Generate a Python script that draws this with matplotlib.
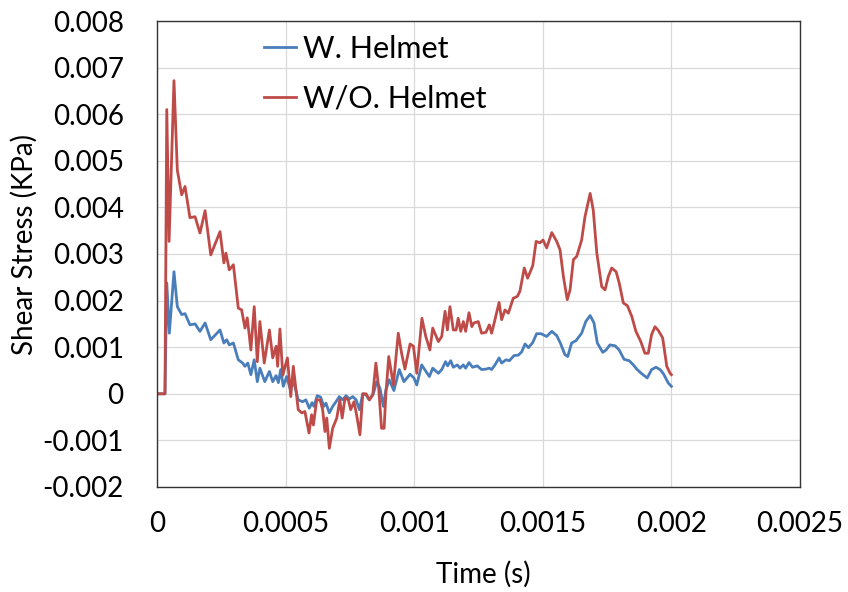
import numpy as np
import matplotlib
matplotlib.use("Agg")
import matplotlib.pyplot as plt

plt.rcParams['font.family'] = ['Lato', 'DejaVu Sans']

# Shear stress history, with helmet
t_with = [0, 3.1e-5, 3.8e-5, 4.8e-5, 6.6e-5, 7.9e-5, 9.6e-5, 1.09e-4, 1.28e-4, 1.48e-4,
          1.67e-4, 1.87e-4, 2.09e-4, 2.45e-4, 2.60e-4, 2.71e-4, 2.81e-4, 2.97e-4, 3.16e-4, 3.33e-4,
          3.42e-4, 3.53e-4, 3.65e-4, 3.78e-4, 3.90e-4, 4.00e-4, 4.19e-4, 4.37e-4, 4.50e-4, 4.63e-4,
          4.72e-4, 4.81e-4, 4.91e-4, 5.04e-4, 5.17e-4, 5.33e-4, 5.49e-4, 5.66e-4, 5.79e-4, 5.92e-4,
          6.03e-4, 6.10e-4, 6.23e-4, 6.36e-4, 6.49e-4, 6.57e-4, 6.70e-4, 6.83e-4, 6.96e-4, 7.09e-4,
          7.22e-4, 7.35e-4, 7.48e-4, 7.61e-4, 7.74e-4, 7.87e-4, 8.00e-4, 8.13e-4, 8.25e-4, 8.41e-4,
          8.54e-4, 8.67e-4, 8.80e-4, 8.90e-4, 9.03e-4, 9.21e-4, 9.42e-4, 9.60e-4, 9.84e-4, 9.99e-4,
          1.010e-3, 1.029e-3, 1.046e-3, 1.059e-3, 1.072e-3, 1.094e-3, 1.107e-3, 1.122e-3, 1.130e-3, 1.142e-3,
          1.152e-3, 1.168e-3, 1.178e-3, 1.191e-3, 1.200e-3, 1.213e-3, 1.227e-3, 1.245e-3, 1.262e-3, 1.279e-3,
          1.292e-3, 1.301e-3, 1.314e-3, 1.330e-3, 1.340e-3, 1.357e-3, 1.370e-3, 1.388e-3, 1.405e-3, 1.418e-3,
          1.431e-3, 1.444e-3, 1.461e-3, 1.476e-3, 1.493e-3, 1.515e-3, 1.535e-3, 1.554e-3, 1.569e-3, 1.586e-3,
          1.597e-3, 1.612e-3, 1.629e-3, 1.651e-3, 1.667e-3, 1.684e-3, 1.699e-3, 1.712e-3, 1.733e-3, 1.746e-3,
          1.761e-3, 1.781e-3, 1.797e-3, 1.816e-3, 1.836e-3, 1.852e-3, 1.867e-3, 1.885e-3, 1.906e-3, 1.923e-3,
          1.940e-3, 1.956e-3, 1.969e-3, 1.988e-3, 2.000e-3]
shear_with = [0, 0, 0.00238, 0.0013, 0.00262, 0.00187, 0.0017, 0.00172, 0.00148, 0.0015,
              0.00134, 0.00152, 0.00116, 0.00137, 0.00109, 0.00116, 0.00105, 0.00109, 0.00073, 0.00066,
              0.00059, 0.00066, 0.00041, 0.00073, 0.00026, 0.00055, 0.00026, 0.00048, 0.00026, 0.00039,
              0.00024, 0.00052, 0.00016, 0.00037, 0.00012, 0.00023, -0.00013, -0.00017, -0.00013, -0.00031,
              -0.00019, -0.00027, -0.00004, -0.00007, -0.00027, -0.0002, -0.00041, -0.00027, -0.00017, -0.00006,
              -0.00013, -0.00004, -0.00011, -0.00006, -0.00013, -0.00034, 0.0, -0.00002, -0.00013, 0.0,
              0.00026, 0.00012, -0.00027, 0.00009, 0.0003, 0.00007, 0.00052, 0.00026, 0.00042, 0.00034,
              0.00019, 0.00062, 0.00048, 0.00037, 0.00055, 0.00044, 0.00052, 0.00069, 0.0006, 0.00071,
              0.00057, 0.00062, 0.00055, 0.00062, 0.00055, 0.00067, 0.00057, 0.0006, 0.00052, 0.00053,
              0.00055, 0.00052, 0.00062, 0.00077, 0.00066, 0.00073, 0.00071, 0.00082, 0.00083, 0.0009,
              0.00107, 0.00099, 0.0011, 0.00129, 0.00129, 0.00123, 0.00134, 0.00125, 0.00108, 0.00084,
              0.0008, 0.00109, 0.00114, 0.0013, 0.00155, 0.00168, 0.00152, 0.00109, 0.00089, 0.00094,
              0.00105, 0.00103, 0.00094, 0.00074, 0.00071, 0.00062, 0.00052, 0.00043, 0.00034, 0.00052,
              0.00057, 0.00052, 0.00043, 0.00023, 0.00016]

# Shear stress history, without helmet
t_without = [0, 3.1e-5, 3.8e-5, 4.7e-5, 6.6e-5, 7.9e-5, 9.6e-5, 1.09e-4, 1.28e-4, 1.48e-4,
             1.67e-4, 1.87e-4, 2.09e-4, 2.45e-4, 2.60e-4, 2.68e-4, 2.81e-4, 2.97e-4, 3.16e-4, 3.29e-4,
             3.42e-4, 3.51e-4, 3.65e-4, 3.78e-4, 3.90e-4, 4.00e-4, 4.17e-4, 4.37e-4, 4.50e-4, 4.63e-4,
             4.69e-4, 4.78e-4, 4.89e-4, 5.07e-4, 5.20e-4, 5.30e-4, 5.49e-4, 5.63e-4, 5.75e-4, 5.91e-4,
             6.01e-4, 6.08e-4, 6.21e-4, 6.34e-4, 6.44e-4, 6.53e-4, 6.60e-4, 6.70e-4, 6.83e-4, 6.99e-4,
             7.11e-4, 7.20e-4, 7.31e-4, 7.44e-4, 7.53e-4, 7.66e-4, 7.76e-4, 7.89e-4, 8.00e-4, 8.13e-4,
             8.26e-4, 8.39e-4, 8.51e-4, 8.62e-4, 8.73e-4, 8.83e-4, 8.90e-4, 9.01e-4, 9.19e-4, 9.38e-4,
             9.51e-4, 9.64e-4, 9.84e-4, 9.97e-4, 1.010e-3, 1.030e-3, 1.045e-3, 1.061e-3, 1.072e-3, 1.094e-3,
             1.107e-3, 1.120e-3, 1.129e-3, 1.139e-3, 1.152e-3, 1.163e-3, 1.171e-3, 1.181e-3, 1.191e-3, 1.200e-3,
             1.213e-3, 1.224e-3, 1.232e-3, 1.249e-3, 1.262e-3, 1.279e-3, 1.292e-3, 1.301e-3, 1.314e-3, 1.330e-3,
             1.340e-3, 1.353e-3, 1.366e-3, 1.385e-3, 1.401e-3, 1.411e-3, 1.428e-3, 1.441e-3, 1.461e-3, 1.474e-3,
             1.489e-3, 1.501e-3, 1.515e-3, 1.535e-3, 1.554e-3, 1.567e-3, 1.580e-3, 1.595e-3, 1.606e-3, 1.619e-3,
             1.632e-3, 1.651e-3, 1.664e-3, 1.684e-3, 1.696e-3, 1.710e-3, 1.729e-3, 1.742e-3, 1.755e-3, 1.768e-3,
             1.785e-3, 1.797e-3, 1.813e-3, 1.829e-3, 1.846e-3, 1.862e-3, 1.881e-3, 1.897e-3, 1.910e-3, 1.923e-3,
             1.936e-3, 1.949e-3, 1.966e-3, 1.982e-3, 1.995e-3, 2.000e-3]
shear_without = [0, 0, 0.0061, 0.00327, 0.00672, 0.0048, 0.00427, 0.00445, 0.00378, 0.0038,
                 0.00345, 0.00393, 0.00298, 0.00348, 0.00281, 0.00302, 0.00266, 0.00277, 0.00184, 0.0018,
                 0.00141, 0.00163, 0.00094, 0.00187, 0.00069, 0.00155, 0.00066, 0.00137, 0.00077, 0.00102,
                 0.00059, 0.00139, 0.0004, 0.00077, -0.00006, 0.00059, -0.00034, -0.00041, -0.00038, -0.00084,
                 -0.00045, -0.00067, -0.00013, -0.00013, -0.00034, -0.00081, -0.00052, -0.00117, -0.00074, -0.00052,
                 -0.00013, -0.00052, -0.00009, -0.00013, -0.00034, -0.00017, -0.00045, -0.00088, 0.0, 0.0,
                 -0.00013, -0.00002, 0.00066, 0.00012, -0.00074, -0.00074, 0.0, 0.0008, 0.00019, 0.0013,
                 0.00087, 0.00053, 0.00107, 0.00102, 0.00044, 0.00162, 0.00123, 0.00094, 0.00141, 0.00112,
                 0.00123, 0.00177, 0.00137, 0.00187, 0.00137, 0.00137, 0.00162, 0.00134, 0.00155, 0.00134,
                 0.00174, 0.00144, 0.00152, 0.00155, 0.0013, 0.00132, 0.00148, 0.0013, 0.00159, 0.00196,
                 0.00159, 0.0018, 0.00173, 0.00205, 0.00209, 0.0022, 0.0027, 0.00248, 0.00275, 0.00327,
                 0.00324, 0.0033, 0.00313, 0.00346, 0.00327, 0.00309, 0.00252, 0.00202, 0.00223, 0.00288,
                 0.00295, 0.0033, 0.0038, 0.0043, 0.00395, 0.00302, 0.0023, 0.00223, 0.00252, 0.0027,
                 0.00262, 0.00238, 0.00195, 0.00189, 0.00166, 0.00134, 0.00112, 0.00087, 0.00087, 0.00127,
                 0.00144, 0.00136, 0.0012, 0.00059, 0.00044, 0.00041]

x_ticks = [0, 0.0005, 0.001, 0.0015, 0.002, 0.0025]
x_labels = ["0", "0.0005", "0.001", "0.0015", "0.002", "0.0025"]
y_ticks = [-0.002, -0.001, 0, 0.001, 0.002, 0.003, 0.004, 0.005, 0.006, 0.007, 0.008]
y_labels = ["-0.002", "-0.001", "0", "0.001", "0.002", "0.003", "0.004", "0.005",
            "0.006", "0.007", "0.008"]

fig = plt.figure(figsize=(8.48, 5.92), dpi=100)
ax = fig.add_axes([157 / 848, 1 - 487 / 592, (800 - 157) / 848, (487 - 21) / 592])

ax.plot(t_with, shear_with, color="#4a7ebb", lw=2.0, label="W. Helmet")
ax.plot(t_without, shear_without, color="#be4b48", lw=2.0, label="W/O. Helmet")

ax.set_xlim(0, 0.0025)
ax.set_ylim(-0.002, 0.008)
ax.set_xticks(x_ticks)
ax.set_xticklabels(x_labels)
ax.set_yticks(y_ticks)
ax.set_yticklabels(y_labels)
ax.tick_params(length=0, labelsize=20, colors="black")
ax.tick_params(axis="y", pad=24)
ax.tick_params(axis="x", pad=17)

ax.grid(True, color="#d9d9d9", lw=0.9)
ax.set_axisbelow(True)
for s in ax.spines.values():
    s.set_color("#333333")
    s.set_linewidth(1.0)

ax.set_xlabel("Time (s)", fontsize=20)
ax.xaxis.set_label_coords(0.507, -0.158)
ax.set_ylabel("Shear Stress (KPa)", fontsize=20)
ax.yaxis.set_label_coords(-0.185, 0.52)

ax.legend(loc="upper left", bbox_to_anchor=(0.148, 0.997), frameon=False, fontsize=22,
          handlelength=1.05, handletextpad=0.2, labelspacing=0.72, borderaxespad=0)

fig.savefig("out.png", dpi=100)
